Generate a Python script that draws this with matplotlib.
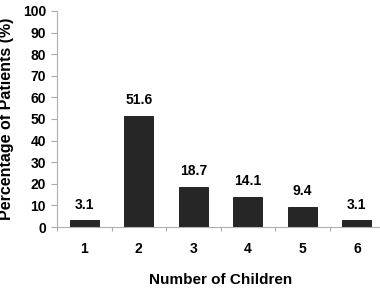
import matplotlib.pyplot as plt
import numpy as np

plt.rcParams['font.family'] = ['Liberation Sans', 'DejaVu Sans']
plt.rcParams['font.weight'] = 'bold'

children = ['1', '2', '3', '4', '5', '6']
percent = [3.1, 51.6, 18.7, 14.1, 9.4, 3.1]

fig = plt.figure(figsize=(3.8, 2.89), dpi=100)
ax = fig.add_axes([0.15, 0.2145, 0.861, 0.7475])

x = np.arange(len(children))
ax.bar(x, percent, width=0.53, color='#262626', edgecolor='#111111', linewidth=0.6)
for xi, v in zip(x, percent):
    ax.text(xi, v + 4, f'{v:.1f}', ha='center', va='bottom', fontsize=10, fontweight='bold')

ax.set_xlim(-0.5, len(children) - 0.5)
ax.set_ylim(0, 100)
ax.set_yticks(range(0, 101, 10))
ax.set_xticks(x)
ax.set_xticklabels(children)
ax.set_xticks(np.arange(-0.5, len(children), 1), minor=True)
ax.tick_params(axis='x', which='major', length=0, pad=11, labelsize=10)
ax.tick_params(axis='x', which='minor', length=3, color='#aaaaaa', width=0.8)
ax.tick_params(axis='y', length=4.5, color='#aaaaaa', width=0.8, labelsize=10, pad=3.5)

for s in ['top', 'right']:
    ax.spines[s].set_visible(False)
for s in ['left', 'bottom']:
    ax.spines[s].set_color('#b0b0b0')
    ax.spines[s].set_linewidth(0.8)

ax.set_xlabel('Number of Children', fontsize=11, fontweight='bold', labelpad=12)
ax.set_ylabel('Percentage of Patients (%)', fontsize=11.5, fontweight='bold', labelpad=6)

fig.savefig('out.png', dpi=100)
